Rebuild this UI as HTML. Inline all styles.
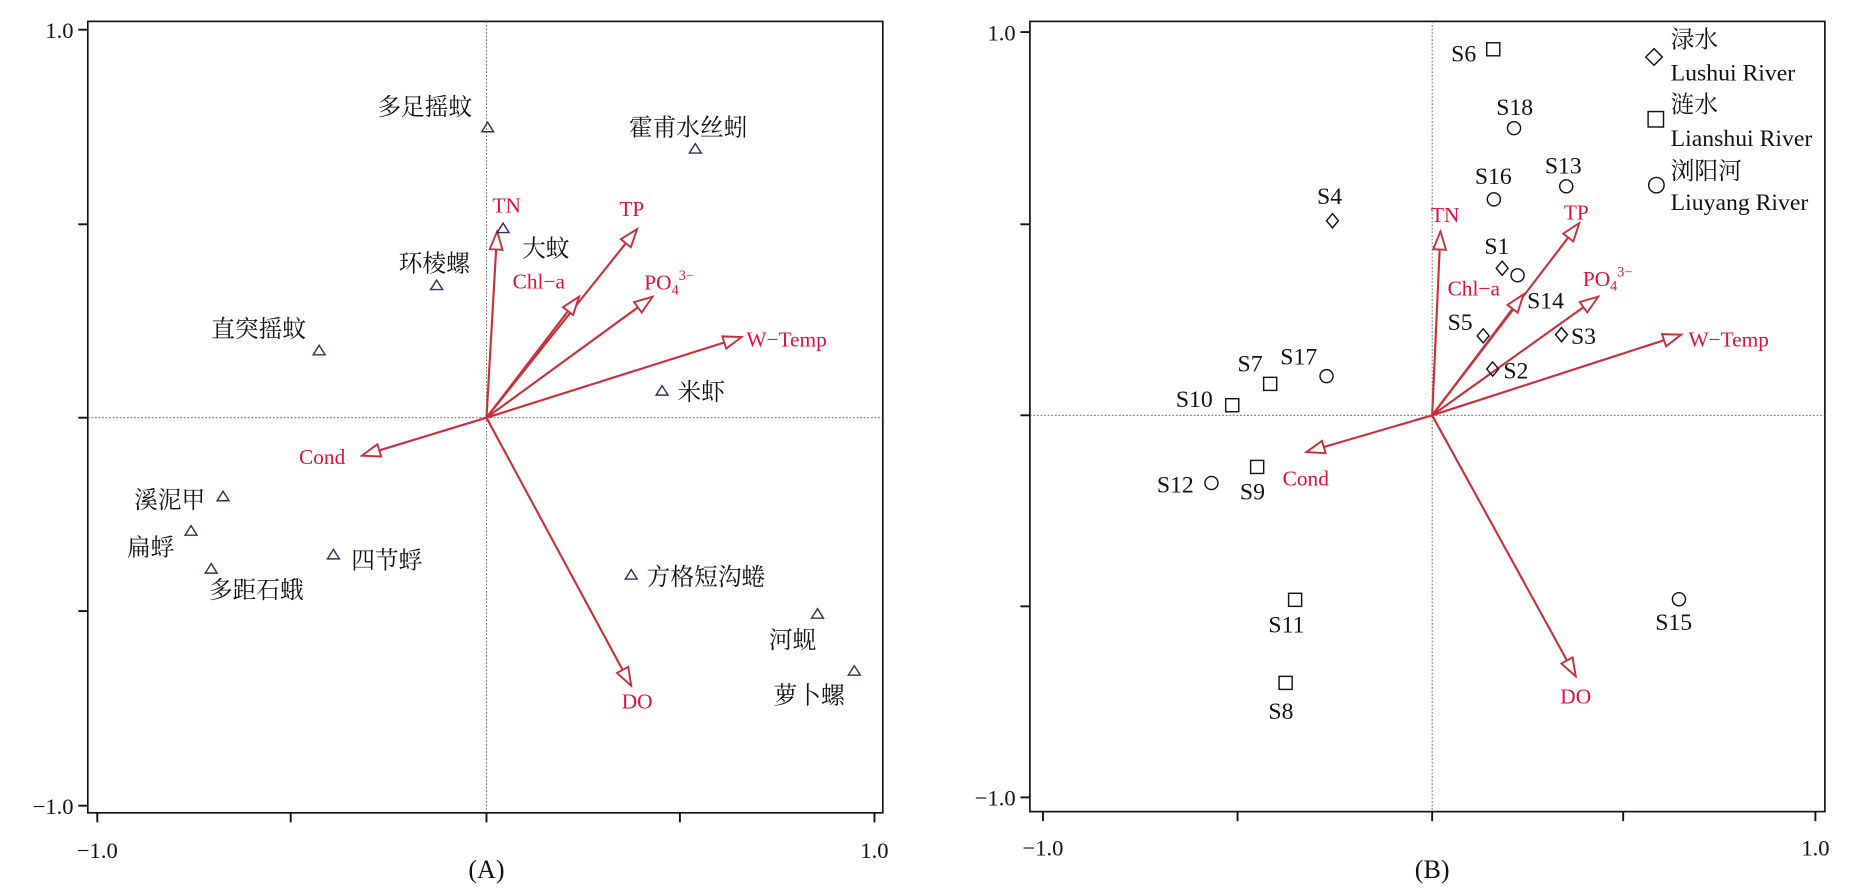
<!DOCTYPE html>
<html><head><meta charset="utf-8"><style>
html,body{margin:0;padding:0;background:#fff;}
svg{display:block;}
text{font-family:"Liberation Serif","Noto Serif CJK SC",serif;}
.lb{font-size:20px;fill:#111;}
.rd{font-size:18px;fill:#e0103a;}
.tk{font-size:19px;fill:#111;}
.ar{stroke:#c8303a;stroke-width:1.8;fill:none;}
</style></head><body>
<svg width="1851" height="894" viewBox="0 0 1560 753.4" xmlns="http://www.w3.org/2000/svg">
<defs>
<marker id="h" viewBox="0 0 20 14" refX="18" refY="7" markerWidth="18" markerHeight="13" markerUnits="userSpaceOnUse" orient="auto">
<path d="M1,1 L18,7 L1,13 Z" fill="#fff" stroke="#c8303a" stroke-width="1.8"/>
</marker>
</defs>
<!-- Panel A -->
<g>
<rect x="74" y="18" width="670" height="667" fill="none" stroke="#111" stroke-width="1.4"/>
<line x1="410" y1="18" x2="410" y2="685" stroke="#555" stroke-width="0.7" stroke-dasharray="1.5,1.5"/>
<line x1="74" y1="352" x2="744" y2="352" stroke="#555" stroke-width="0.7" stroke-dasharray="1.5,1.5"/>
<g stroke="#111" stroke-width="1.6">
<line x1="66" y1="25" x2="74" y2="25"/><line x1="66" y1="189" x2="74" y2="189"/><line x1="66" y1="352" x2="74" y2="352"/><line x1="66" y1="515" x2="74" y2="515"/><line x1="66" y1="679" x2="74" y2="679"/>
<line x1="82" y1="685" x2="82" y2="693"/><line x1="245" y1="685" x2="245" y2="693"/><line x1="410" y1="685" x2="410" y2="693"/><line x1="573" y1="685" x2="573" y2="693"/><line x1="737" y1="685" x2="737" y2="693"/>
</g>
<text class="tk" x="62" y="32" text-anchor="end">1.0</text>
<text class="tk" x="62" y="686" text-anchor="end">−1.0</text>
<text class="tk" x="82" y="723" text-anchor="middle">−1.0</text>
<text class="tk" x="737" y="723" text-anchor="middle">1.0</text>
<text x="410" y="740" text-anchor="middle" style="font-size:22px;fill:#111">(A)</text>
<g class="ar">
<line x1="410" y1="352" x2="419" y2="195" marker-end="url(#h)"/>
<line x1="410" y1="352" x2="537" y2="193" marker-end="url(#h)"/>
<line x1="410" y1="352" x2="488" y2="250" marker-end="url(#h)"/>
<line x1="410" y1="352" x2="550" y2="250" marker-end="url(#h)"/>
<line x1="410" y1="352" x2="625" y2="284" marker-end="url(#h)"/>
<line x1="410" y1="352" x2="305" y2="384" marker-end="url(#h)"/>
<line x1="410" y1="352" x2="532" y2="578" marker-end="url(#h)"/>
</g>
<text class="rd" x="415" y="179">TN</text>
<text class="rd" x="522" y="182">TP</text>
<text class="rd" x="432" y="243">Chl−a</text>
<text class="rd" x="543" y="244">PO<tspan dy="4" font-size="12">4</tspan><tspan dy="-12" font-size="12">3−</tspan></text>
<text class="rd" x="629" y="292">W−Temp</text>
<text class="rd" x="252" y="391">Cond</text>
<text class="rd" x="524" y="597">DO</text>
<g fill="none" stroke="#3a2a5a" stroke-width="1.2">
<path d="M411,103 l-5,8 h10z"/><path d="M586,121 l-5,8 h10z"/><path d="M424,188 l-5,8 h10z"/><path d="M368,236 l-5,8 h10z"/><path d="M269,291 l-5,8 h10z"/><path d="M558,325 l-5,8 h10z"/><path d="M188,414 l-5,8 h10z"/><path d="M161,443 l-5,8 h10z"/><path d="M178,475 l-5,8 h10z"/><path d="M281,463 l-5,8 h10z"/><path d="M532,480 l-5,8 h10z"/><path d="M689,513 l-5,8 h10z"/><path d="M720,561 l-5,8 h10z"/>
</g>
<text class="lb" x="318" y="97">多足摇蚊</text>
<text class="lb" x="530" y="114">霍甫水丝蚓</text>
<text class="lb" x="440" y="216">大蚊</text>
<text class="lb" x="336" y="229">环棱螺</text>
<text class="lb" x="178" y="284">直突摇蚊</text>
<text class="lb" x="571" y="337">米虾</text>
<text class="lb" x="113" y="428">溪泥甲</text>
<text class="lb" x="107" y="468">扁蜉</text>
<text class="lb" x="176" y="504">多距石蛾</text>
<text class="lb" x="296" y="479">四节蜉</text>
<text class="lb" x="545" y="493">方格短沟蜷</text>
<text class="lb" x="648" y="546">河蚬</text>
<text class="lb" x="652" y="593">萝卜螺</text>
</g>
<!-- Panel B -->
<g>
<rect x="868" y="18" width="670" height="666" fill="none" stroke="#111" stroke-width="1.4"/>
<line x1="1207" y1="18" x2="1207" y2="684" stroke="#555" stroke-width="0.7" stroke-dasharray="1.5,1.5"/>
<line x1="868" y1="350" x2="1538" y2="350" stroke="#555" stroke-width="0.7" stroke-dasharray="1.5,1.5"/>
<g stroke="#111" stroke-width="1.6">
<line x1="860" y1="27" x2="868" y2="27"/><line x1="860" y1="189" x2="868" y2="189"/><line x1="860" y1="350" x2="868" y2="350"/><line x1="860" y1="511" x2="868" y2="511"/><line x1="860" y1="672" x2="868" y2="672"/>
<line x1="879" y1="684" x2="879" y2="692"/><line x1="1043" y1="684" x2="1043" y2="692"/><line x1="1207" y1="684" x2="1207" y2="692"/><line x1="1368" y1="684" x2="1368" y2="692"/><line x1="1530" y1="684" x2="1530" y2="692"/>
</g>
<text class="tk" x="856" y="34" text-anchor="end">1.0</text>
<text class="tk" x="856" y="679" text-anchor="end">−1.0</text>
<text class="tk" x="879" y="721" text-anchor="middle">−1.0</text>
<text class="tk" x="1530" y="721" text-anchor="middle">1.0</text>
<text x="1207" y="740" text-anchor="middle" style="font-size:22px;fill:#111">(B)</text>
<g class="ar">
<line x1="1207" y1="350" x2="1214" y2="195" marker-end="url(#h)"/>
<line x1="1207" y1="350" x2="1331" y2="188" marker-end="url(#h)"/>
<line x1="1207" y1="350" x2="1284" y2="248" marker-end="url(#h)"/>
<line x1="1207" y1="350" x2="1347" y2="250" marker-end="url(#h)"/>
<line x1="1207" y1="350" x2="1417" y2="282" marker-end="url(#h)"/>
<line x1="1207" y1="350" x2="1101" y2="381" marker-end="url(#h)"/>
<line x1="1207" y1="350" x2="1328" y2="570" marker-end="url(#h)"/>
</g>
<text class="rd" x="1206" y="187">TN</text>
<text class="rd" x="1318" y="185">TP</text>
<text class="rd" x="1220" y="249">Chl−a</text>
<text class="rd" x="1334" y="241">PO<tspan dy="4" font-size="12">4</tspan><tspan dy="-12" font-size="12">3−</tspan></text>
<text class="rd" x="1423" y="292">W−Temp</text>
<text class="rd" x="1081" y="409">Cond</text>
<text class="rd" x="1315" y="593">DO</text>
<g fill="none" stroke="#111" stroke-width="1.2">
<rect x="1253" y="36" width="11" height="11"/><rect x="1065" y="318" width="11" height="11"/><rect x="1033" y="336" width="11" height="11"/><rect x="1054" y="388" width="11" height="11"/><rect x="1086" y="500" width="11" height="11"/><rect x="1078" y="570" width="11" height="11"/>
<circle cx="1276" cy="108" r="5.5"/><circle cx="1259" cy="168" r="5.5"/><circle cx="1320" cy="157" r="5.5"/><circle cx="1279" cy="232" r="5.5"/><circle cx="1118" cy="317" r="5.5"/><circle cx="1021" cy="407" r="5.5"/><circle cx="1415" cy="505" r="5.5"/>
<path d="M1123,180 l5,6 l-5,6 l-5,-6z"/><path d="M1266,220 l5,6 l-5,6 l-5,-6z"/><path d="M1250,277 l5,6 l-5,6 l-5,-6z"/><path d="M1316,276 l5,6 l-5,6 l-5,-6z"/><path d="M1258,305 l5,6 l-5,6 l-5,-6z"/>
<path d="M1394,41 l7,7 l-7,7 l-7,-7z"/><rect x="1389" y="94" width="13" height="13"/><circle cx="1396" cy="156" r="6.5"/>
</g>
<text class="lb" x="1223" y="52">S6</text>
<text class="lb" x="1261" y="97">S18</text>
<text class="lb" x="1243" y="155">S16</text>
<text class="lb" x="1302" y="146">S13</text>
<text class="lb" x="1110" y="172">S4</text>
<text class="lb" x="1251" y="214">S1</text>
<text class="lb" x="1287" y="260">S14</text>
<text class="lb" x="1220" y="278">S5</text>
<text class="lb" x="1324" y="290">S3</text>
<text class="lb" x="1267" y="319">S2</text>
<text class="lb" x="1079" y="307">S17</text>
<text class="lb" x="1043" y="313">S7</text>
<text class="lb" x="991" y="343">S10</text>
<text class="lb" x="1045" y="421">S9</text>
<text class="lb" x="975" y="415">S12</text>
<text class="lb" x="1069" y="533">S11</text>
<text class="lb" x="1069" y="606">S8</text>
<text class="lb" x="1395" y="531">S15</text>
<text class="lb" x="1408" y="40">渌水</text>
<text class="lb" x="1408" y="68">Lushui River</text>
<text class="lb" x="1408" y="95">涟水</text>
<text class="lb" x="1408" y="123">Lianshui River</text>
<text class="lb" x="1408" y="151">浏阳河</text>
<text class="lb" x="1408" y="177">Liuyang River</text>
</g>
</svg>
</body></html>
